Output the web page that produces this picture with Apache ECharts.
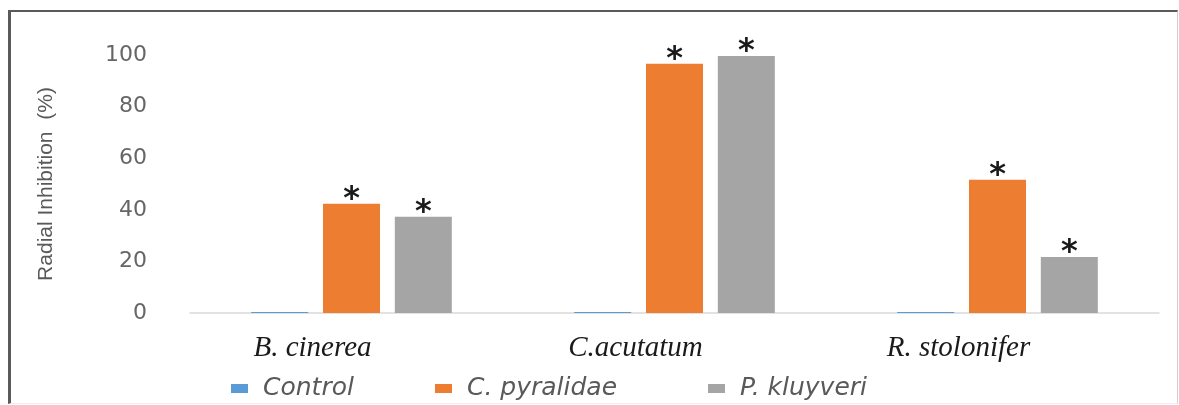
<!DOCTYPE html>
<html>
<head>
<meta charset="utf-8">
<script src="https://cdn.jsdelivr.net/npm/echarts@6/dist/echarts.min.js"></script>
<style>
html,body{margin:0;padding:0;background:#fff;}
#frame{position:absolute;left:8px;top:10px;width:1170px;height:394px;border-top:2px solid #5a5a5a;border-left:3px solid #5a5a5a;border-right:1px solid #cfcfcf;border-bottom:1px solid #eeeeee;box-sizing:border-box;}
#chart{position:absolute;left:0;top:0;width:1179px;height:405px;}
</style>
</head>
<body>
<div id="frame"></div>
<div id="chart"></div>
<script>
const categories = ['B. cinerea', 'C.acutatum', 'R. stolonifer'];
const controlValues = [0.4, 0.4, 0.4];
const pyralidaeValues = [42.3, 96.6, 51.6];
const kluyveriValues = [37.3, 99.6, 21.7];
const yTicks = [0, 20, 40, 60, 80, 100];
const seriesNames = ['Control', 'C. pyralidae', 'P. kluyveri'];
const colors = ['#5b9bd5', '#ed7d31', '#a5a5a5'];

const chart = echarts.init(document.getElementById('chart'), null, {renderer: 'canvas'});

const starLabel = {
  show: true,
  position: 'top',
  formatter: '*',
  distance: -12,
  color: '#1a1a1a',
  fontSize: 32,
  fontWeight: 'bold',
  fontFamily: 'DejaVu Sans'
};

const legendText = {
  color: '#595959',
  fontSize: 25,
  fontStyle: 'italic',
  fontFamily: 'DejaVu Sans',
  padding: [0, 0, 0, 10]
};

function legendAt(name, left) {
  return {
    data: [name],
    left: left,
    top: 371,
    itemWidth: 17,
    itemHeight: 9,
    icon: 'rect',
    itemGap: 0,
    textStyle: legendText,
    selectedMode: false
  };
}

chart.setOption({
  animation: false,
  color: colors,
  grid: {left: 190, right: 20, top: 55, bottom: 92},
  legend: [
    legendAt(seriesNames[0], 226),
    legendAt(seriesNames[1], 430),
    legendAt(seriesNames[2], 703)
  ],
  xAxis: {
    type: 'category',
    data: categories,
    axisLine: {show: true, lineStyle: {color: '#d9d9d9', width: 1.5}},
    axisTick: {show: false},
    axisLabel: {
      margin: 21,
      color: '#1a1a1a',
      fontSize: 29,
      fontStyle: 'italic',
      fontFamily: 'Liberation Serif',
      padding: [0, 78, 0, 0]
    }
  },
  yAxis: {
    type: 'value',
    min: yTicks[0],
    max: yTicks[yTicks.length - 1],
    interval: 20,
    name: 'Radial Inhibition  (%)',
    nameLocation: 'middle',
    nameRotate: 90,
    nameGap: 133,
    nameTextStyle: {
      color: '#595959',
      fontSize: 21,
      fontFamily: 'Liberation Sans'
    },
    axisLine: {show: false},
    axisTick: {show: false},
    splitLine: {show: false},
    axisLabel: {
      margin: 43,
      color: '#666666',
      fontSize: 22,
      fontFamily: 'DejaVu Sans'
    }
  },
  series: [
    {name: seriesNames[0], type: 'bar', data: controlValues, barWidth: 57, barGap: '26%', barCategoryGap: '38%'},
    {name: seriesNames[1], type: 'bar', data: pyralidaeValues, barWidth: 57, barGap: '26%', label: starLabel},
    {name: seriesNames[2], type: 'bar', data: kluyveriValues, barWidth: 57, barGap: '26%', label: starLabel}
  ]
});
</script>
</body>
</html>
